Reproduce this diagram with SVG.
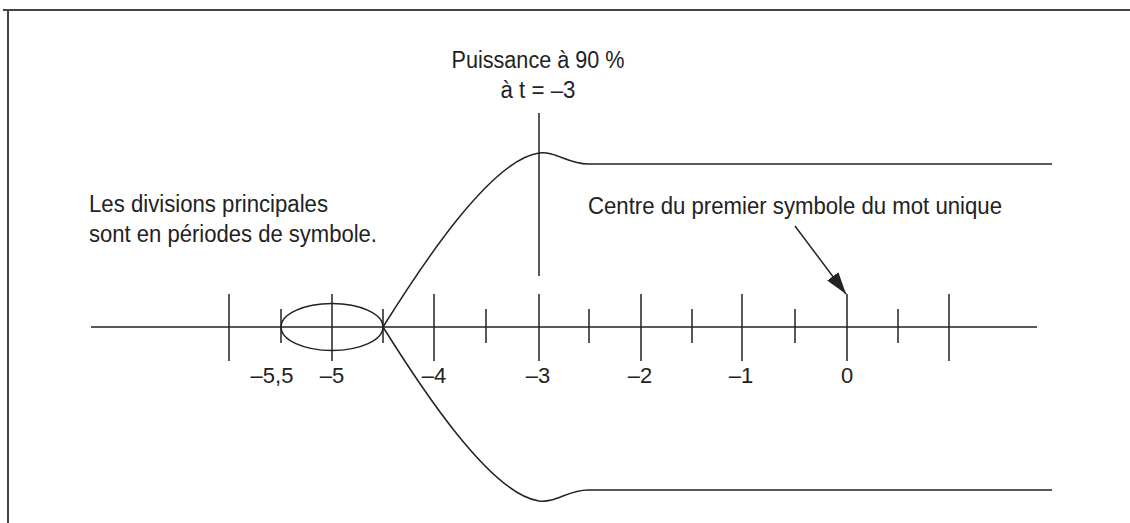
<svg xmlns="http://www.w3.org/2000/svg" width="1130" height="523" viewBox="0 0 1130 523">
<style>
.ln{stroke:#222;stroke-width:1.5;fill:none}
.t{font-family:"Liberation Sans",Arial,sans-serif;fill:#222;font-size:23px}
.lb{font-family:"Liberation Sans",Arial,sans-serif;fill:#222;font-size:22px;text-anchor:middle}
</style>
<defs>
<marker id="ah" markerWidth="24" markerHeight="14" refX="22" refY="7" orient="auto" markerUnits="userSpaceOnUse">
<path d="M0,0 L22,7 L0,14 Z" fill="#222"/>
</marker>
</defs>
<rect width="1130" height="523" fill="#fff"/>
<g id="frame">
<path d="M3,10 H1130 M8,10 V523" stroke="#444" stroke-width="2" fill="none"/>
</g>
<g id="axis">
<line class="ln" x1="91" y1="327" x2="1037" y2="327"/>
<path class="ln" d="M229,294 V361 M332,294 V361 M434,294 V361 M539,294 V361 M641,294 V361 M742,294 V361 M847,294 V361 M949,294 V361"/>
<path class="ln" d="M281,309 V343 M383,309 V343 M486,309 V343 M589,309 V343 M692,309 V343 M795,309 V343 M898,309 V343"/>
</g>
<g id="ellipse">
<ellipse class="ln" cx="332" cy="327" rx="51" ry="23.5"/>
</g>
<g id="envelope">
<path class="ln" d="M383,327 C420,268 490,160 539,153 C556,151 568,164 588,164 L1052,164"/>
<path class="ln" d="M383,327 C420,386 490,494 539,501 C556,503 568,490 588,490 L1052,490"/>
</g>
<g id="marker90">
<line class="ln" x1="539" y1="113" x2="539" y2="276"/>
<text class="t" x="538" y="68" text-anchor="middle" textLength="173" lengthAdjust="spacingAndGlyphs">Puissance à 90 %</text>
<text class="t" x="538" y="98" text-anchor="middle" textLength="75" lengthAdjust="spacingAndGlyphs">à t = –3</text>
</g>
<g id="note">
<text class="t" x="89" y="212" textLength="239" lengthAdjust="spacingAndGlyphs">Les divisions principales</text>
<text class="t" x="89" y="242" textLength="288" lengthAdjust="spacingAndGlyphs">sont en périodes de symbole.</text>
</g>
<g id="centre">
<text class="t" x="588" y="214" textLength="414" lengthAdjust="spacingAndGlyphs">Centre du premier symbole du mot unique</text>
</g>
<g id="connectors">
<line class="ln" x1="795" y1="226" x2="846" y2="294" marker-end="url(#ah)"/>
</g>
<g id="labels">
<text class="lb" x="272" y="383">–5,5</text>
<text class="lb" x="332" y="383">–5</text>
<text class="lb" x="434" y="383">–4</text>
<text class="lb" x="538" y="383">–3</text>
<text class="lb" x="640" y="383">–2</text>
<text class="lb" x="741" y="383">–1</text>
<text class="lb" x="847" y="383">0</text>
</g>
</svg>
